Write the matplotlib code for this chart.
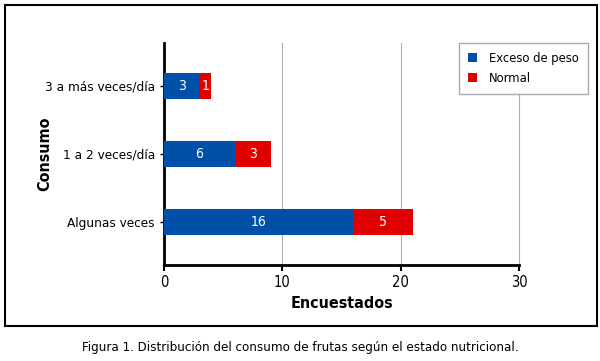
import matplotlib.pyplot as plt
import matplotlib.patches as mpatches
import numpy as np

plt.rcParams['font.family'] = ['DejaVu Sans']
plt.rcParams['font.stretch'] = 'condensed'

categorias = ['Algunas veces', '1 a 2 veces/día', '3 a más veces/día']
exceso = [16, 6, 3]
normal = [5, 3, 1]
xticks = [0, 10, 20, 30]

c_exceso = '#0050AA'
c_normal = '#E10000'

fig = plt.figure(figsize=(6.0, 3.61), dpi=100)
ax = fig.add_axes([164 / 600, 1 - 265 / 361, 355 / 600, 222 / 361])

y = np.arange(len(categorias))
b1 = ax.barh(y, exceso, height=0.38, color=c_exceso, label='Exceso de peso', zorder=3)
b2 = ax.barh(y, normal, left=exceso, height=0.38, color=c_normal, label='Normal', zorder=3)
ax.bar_label(b1, labels=[str(v) for v in exceso], label_type='center', color='white', fontsize=10)
ax.bar_label(b2, labels=[str(v) for v in normal], label_type='center', color='white', fontsize=10)

ax.set_xlim(0, 30)
ax.set_ylim(-0.63, 2.63)
ax.set_xticks(xticks)
ax.set_yticks(y)
ax.set_yticklabels(categorias, fontsize=9.7)
ax.tick_params(axis='x', labelsize=10.5, length=4, width=1.5)
ax.tick_params(axis='y', length=3, width=1)
ax.grid(axis='x', color='#b0b0b0', linewidth=0.8, zorder=0)
for gl in ax.get_xgridlines():
    gl.set_clip_on(False)
for s in ['top', 'right']:
    ax.spines[s].set_visible(False)
for s in ['left', 'bottom']:
    ax.spines[s].set_linewidth(2)
ax.set_xlabel('Encuestados', fontsize=11.5, fontweight='bold')
ax.set_ylabel('Consumo', fontsize=11.5, fontweight='bold')
ax.yaxis.set_label_coords(-112 / 355, 0.5)

ax.legend(loc='upper left', bbox_to_anchor=(459 / 600, 1 - 43 / 361), bbox_transform=fig.transFigure,
          borderaxespad=0, fontsize=9.3, frameon=True, framealpha=1,
          fancybox=False, edgecolor='#aaaaaa', handlelength=0.7, handleheight=0.7,
          borderpad=0.7, labelspacing=0.55, handletextpad=0.9)

fig.patches.append(mpatches.Rectangle((5 / 600, 1 - 326 / 361), 592 / 600, 321 / 361,
                                      transform=fig.transFigure, fill=False,
                                      edgecolor='black', linewidth=1.5))
fig.text(0.5, 1 - 347 / 361, 'Figura 1. Distribución del consumo de frutas según el estado nutricional.',
         ha='center', va='center', fontsize=9.5)

fig.savefig('out.png', dpi=100)
